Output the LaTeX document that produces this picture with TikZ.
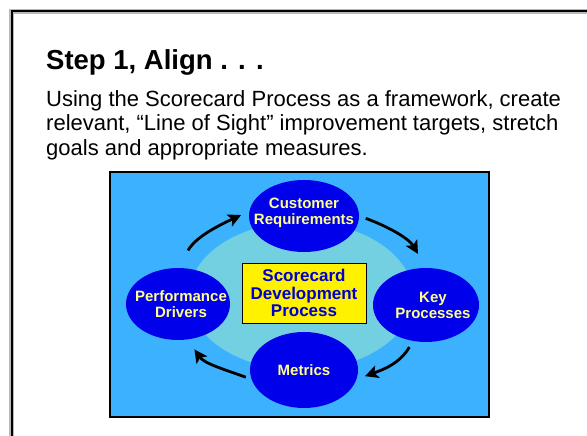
\documentclass[tikz,border=0pt]{standalone}
\usepackage{fontspec}
\setmainfont{Liberation Sans}
\usepackage{xcolor}
\usepackage{tikz}
\usetikzlibrary{shapes,arrows.meta,positioning,calc}

\definecolor{panelblue}{RGB}{60,178,255}
\definecolor{ringcyan}{RGB}{115,208,225}
\definecolor{bubbleblue}{RGB}{0,0,235}
\definecolor{bubbletext}{RGB}{255,255,140}
\definecolor{coreblue}{RGB}{0,0,205}

\begin{document}
\begin{tikzpicture}[
            x=1pt, y=1pt,
            node distance=77pt,
            bubble/.style={ellipse, fill=bubbleblue, inner sep=0pt},
            bubbletext/.style={text=bubbletext, align=center, inner sep=0pt, font=\bfseries\fontsize{15}{16}\selectfont},
            cycle/.style={-{Stealth[length=13pt,width=13pt,inset=3pt]}, line width=2.8pt}
        ]
            \useasboundingbox (0,0) rectangle (587,436);
            \clip (0,0) rectangle (587,436);

            % slide frame, cut off at the right and bottom
            \draw[gray!55, line width=4.5pt] (11.5,-20) rectangle (620,424.5);
            \draw[black, line width=2pt] (11.5,-20) rectangle (620,424.5);

            \node[anchor=base west, inner sep=0pt, font=\bfseries\fontsize{27.5}{32}\selectfont] (title) at (46,366) {Step 1, Align . . .};
            \node[anchor=north west, inner sep=0pt, align=left, font=\fontsize{22}{24.5}\selectfont] (intro) at (46,346)
                {Using the Scorecard Process as a framework, create\\relevant, ``Line of Sight'' improvement targets, stretch\\goals and appropriate measures.};

            \node[draw, line width=1.3pt, fill=panelblue, minimum width=379pt, minimum height=245pt] (panel) at (299.5,141.5) {};
            \node[ellipse, fill=ringcyan, minimum width=224pt, minimum height=148pt] (ring) at (301,140) {};

            \node[draw, fill=yellow, text=coreblue, align=center, inner sep=0pt, minimum width=124pt, minimum height=60pt,
                font=\bfseries\fontsize{17}{17.5}\selectfont] (core) at (304,143) {Scorecard\\Development\\Process};
            \node[bubble, above of=core, minimum width=110pt, minimum height=72pt,
                label={[bubbletext, yshift=3pt]center:Customer\\Requirements}] (customer) {};
            \node[bubble, below of=core, minimum width=108pt, minimum height=76pt,
                label={[bubbletext]center:Metrics}] (metrics) {};
            \node[bubble, left of=core, node distance=126pt, yshift=-11pt, minimum width=104pt, minimum height=72pt,
                label={[bubbletext, xshift=3pt]center:Performance\\Drivers}] (drivers) {};
            \node[bubble, right of=core, node distance=122pt, yshift=-12pt, minimum width=106pt, minimum height=74pt,
                label={[bubbletext, xshift=7pt]center:Key\\Processes}] (key) {};

            \draw[cycle, shorten <=20pt, shorten >=9pt] (drivers.north) to[out=60, in=205] (customer.175);
            \draw[cycle, shorten <=7pt, shorten >=16pt] (customer.east) to[out=-20, in=120] (key.north);
            \draw[cycle, shorten <=7pt, shorten >=9pt] (key.-110) to[out=-120, in=20] (metrics.-10);
            \draw[cycle, shorten <=6pt, shorten >=12pt] (metrics.190) to[out=160, in=-55] (drivers.-75);
        \end{tikzpicture}
\end{document}
